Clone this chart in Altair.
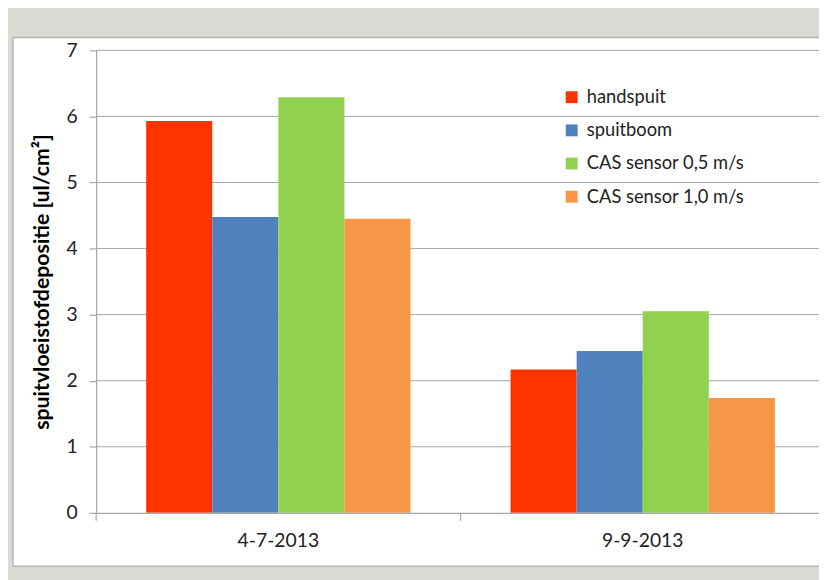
import altair as alt
import pandas as pd

# ---- data ----
dates = ["4-7-2013", "9-9-2013"]
series = ["handspuit", "spuitboom", "CAS sensor 0,5 m/s", "CAS sensor 1,0 m/s"]
colors = ["#FF3300", "#4F81BD", "#92D050", "#F79646"]
handspuit = [5.93, 2.17]
spuitboom = [4.48, 2.45]
cas_05 = [6.29, 3.05]
cas_10 = [4.45, 1.74]
y_ticks = [1, 2, 3, 4, 5, 6, 7]

series_values = [handspuit, spuitboom, cas_05, cas_10]
rows = []
for s, vals in zip(series, series_values):
    for d, v in zip(dates, vals):
        rows.append({"date": d, "series": s, "value": v})
df = pd.DataFrame(rows)
grid_df = pd.DataFrame({"value": y_ticks})
date_df = pd.DataFrame({"date": dates})

W, H = 730, 467
BAND_RANGE = 736
FONT = "Lato"
TXT = "#222222"
AX = "#a6a6a6"

x_enc = alt.X(
    "date:N", sort=dates,
    scale=alt.Scale(paddingInner=0, paddingOuter=0, range=[0, BAND_RANGE]),
    axis=alt.Axis(title=None, ticks=False, domainColor=AX, domainWidth=1.2,
                  labelFont=FONT, labelFontSize=19.5, labelColor=TXT,
                  labelPadding=19, labelAngle=0, zindex=1),
)

panel = alt.Chart(pd.DataFrame({"k": [0]})).mark_rect(
    fill="white", stroke="#b4b4b4", strokeWidth=1.5
).encode(
    x=alt.value(-84), x2=alt.value(W + 30), y=alt.value(-13), y2=alt.value(521)
)

grid = alt.Chart(grid_df).mark_rule(color=AX, strokeWidth=1).encode(
    y=alt.Y("value:Q"),
    x=alt.value(0), x2=alt.value(W),
)

bars = alt.Chart(df).mark_bar().encode(
    x=x_enc,
    xOffset=alt.XOffset("series:N", sort=series,
                        scale=alt.Scale(paddingInner=0, paddingOuter=0.757)),
    y=alt.Y("value:Q", scale=alt.Scale(domain=[0, 7], nice=False),
            axis=alt.Axis(values=[0] + y_ticks, format="d", grid=False, tickSize=7,
                          tickColor=AX, domainColor=AX, domainWidth=1.2, tickWidth=1.2,
                          labelFont=FONT, labelFontSize=19.5, labelColor=TXT,
                          labelPadding=12, title="spuitvloeistofdepositie [ul/cm²]",
                          titleFont=FONT, titleFontSize=21.5, titleFontWeight="bold",
                          titleColor="#000000", titlePadding=13, zindex=1)),
    color=alt.Color("series:N",
                    scale=alt.Scale(domain=series, range=colors),
                    legend=alt.Legend(
                        title=None, orient="none", legendX=471, legendY=38,
                        symbolType="square", symbolSize=144, symbolStrokeWidth=0,
                        labelFont=FONT, labelFontSize=18.5, labelColor=TXT,
                        labelOffset=6, rowPadding=14.5, zindex=1,
                        labelExpr="indexof(datum.label, 'CAS') == 0 ? datum.label : '\u00a0\u00a0' + datum.label",
                    )),
)

sep = alt.Chart(date_df).mark_rule(color=AX, strokeWidth=1.2).encode(
    x=alt.X("date:N", sort=dates, bandPosition=0),
    y=alt.value(H), y2=alt.value(H + 8),
)

chart = alt.layer(panel, grid, bars, sep).properties(
    width=W, height=H,
    background="#dbdbd5",
    autosize=alt.AutoSizeParams(type="none"),
    padding={"left": 89, "top": 40, "right": 0, "bottom": 65},
).configure_view(stroke=None)

chart.save("out.html", embed_options={"renderer": "svg", "actions": False})
